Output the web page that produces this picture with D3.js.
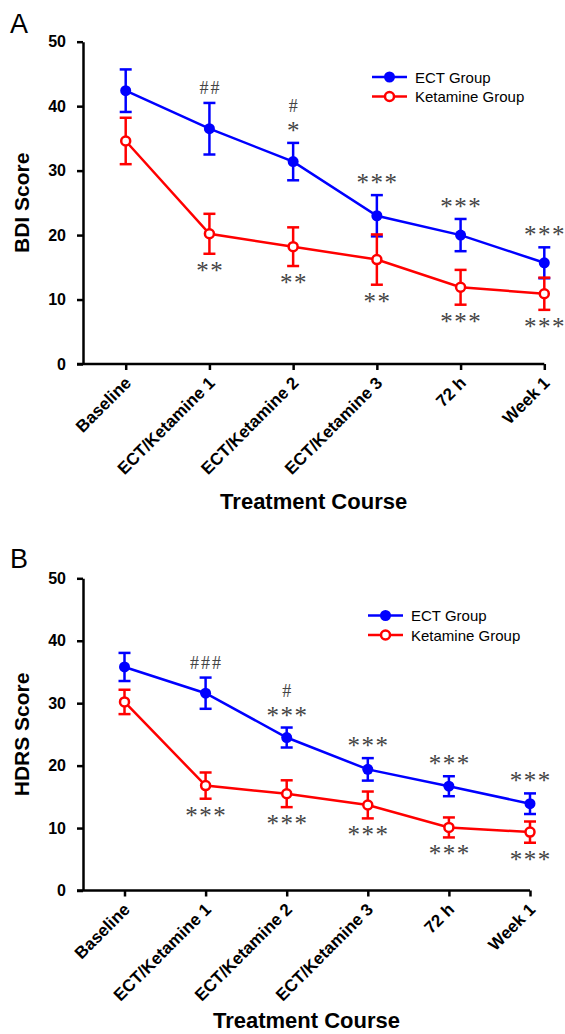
<!DOCTYPE html>
<html>
<head>
<meta charset="utf-8">
<script src="https://cdn.jsdelivr.net/npm/d3@7"></script>
<style>
  html, body { margin: 0; padding: 0; background: #fff; }
  svg { display: block; }
</style>
</head>
<body>
<svg id="chart" width="565" height="1034"></svg>
<script>
// ---------------- DATA ----------------
const categories = ["Baseline", "ECT/Ketamine 1", "ECT/Ketamine 2", "ECT/Ketamine 3", "72 h", "Week 1"];
const yTicks = [0, 10, 20, 30, 40, 50];
const seriesNames = ["ECT Group", "Ketamine Group"];

// Panel A: BDI
const bdiEct = [42.4, 36.5, 31.4, 23.0, 20.0, 15.7];
const bdiEctErr = [3.3, 4.0, 2.9, 3.2, 2.5, 2.4];
const bdiKet = [34.6, 20.2, 18.2, 16.2, 11.9, 10.9];
const bdiKetErr = [3.6, 3.1, 3.0, 3.9, 2.7, 2.5];
// annotations (listed from nearest to the bar outward)
const bdiEctMarks = [[], ["##"], ["*", "#"], ["***"], ["***"], ["***"]];
const bdiKetMarks = [[], ["**"], ["**"], ["**"], ["***"], ["***"]];

// Panel B: HDRS
const hdrsEct = [35.8, 31.6, 24.5, 19.4, 16.7, 13.9];
const hdrsEctErr = [2.25, 2.5, 1.6, 1.8, 1.6, 1.65];
const hdrsKet = [30.2, 16.8, 15.5, 13.7, 10.1, 9.35];
const hdrsKetErr = [1.95, 2.1, 2.15, 2.15, 1.6, 1.7];
const hdrsEctMarks = [[], ["###"], ["***", "#"], ["***"], ["***"], ["***"]];
const hdrsKetMarks = [[], ["***"], ["***"], ["***"], ["***"], ["***"]];

const panelLetters = ["A", "B"];
const yTitles = ["BDI Score", "HDRS Score"];
const xTitle = "Treatment Course";

// ---------------- LAYOUT ----------------
const BLUE = "#0000ff", RED = "#ff0000", GRAY = "#444";
const FONT = "'Liberation Sans', Arial, sans-serif";
const SERIF = "'Liberation Serif', 'Times New Roman', serif";

const panels = [
  { letter: panelLetters[0], yTitle: yTitles[0],
    ect: bdiEct, ectErr: bdiEctErr, ket: bdiKet, ketErr: bdiKetErr,
    ectMarks: bdiEctMarks, ketMarks: bdiKetMarks,
    axisX: 83, yTop: 41.7, yBottom: 364, xRange: [125.7, 544.3],
    legendX: 372, legendY: 77, letterY: 33, titleY: 509 },
  { letter: panelLetters[1], yTitle: yTitles[1],
    ect: hdrsEct, ectErr: hdrsEctErr, ket: hdrsKet, ketErr: hdrsKetErr,
    ectMarks: hdrsEctMarks, ketMarks: hdrsKetMarks,
    axisX: 83, yTop: 578.3, yBottom: 890.5, xRange: [124.5, 530],
    legendX: 368, legendY: 615.5, letterY: 568, titleY: 1028 }
];

const svg = d3.select("#chart");

panels.forEach(p => {
  const g = svg.append("g");
  const x = d3.scalePoint().domain(categories).range(p.xRange);
  const y = d3.scaleLinear().domain([0, 50]).range([p.yBottom, p.yTop]);

  // panel letter
  g.append("text").attr("x", 10).attr("y", p.letterY)
    .attr("font-family", FONT).attr("font-size", 27).attr("fill", "#000")
    .text(p.letter);

  // y axis
  const yAxis = g.append("g").attr("transform", `translate(${p.axisX},0)`)
    .call(d3.axisLeft(y).tickValues(yTicks).tickSize(6).tickSizeOuter(0).tickPadding(11));
  yAxis.select(".domain").attr("stroke", "#000").attr("stroke-width", 2.5);
  yAxis.selectAll(".tick line").attr("stroke", "#000").attr("stroke-width", 2.5);
  yAxis.selectAll(".tick text").attr("font-family", FONT).attr("font-size", 16)
    .attr("font-weight", "bold").attr("fill", "#000");

  // x axis
  const xAxis = g.append("g").attr("transform", `translate(0,${p.yBottom})`)
    .call(d3.axisBottom(x).tickSize(6).tickSizeOuter(0));
  xAxis.select(".domain").remove();
  xAxis.selectAll(".tick line").attr("stroke", "#000").attr("stroke-width", 2.5);
  xAxis.selectAll(".tick text")
    .attr("font-family", FONT).attr("font-size", 17).attr("font-weight", "bold").attr("fill", "#000")
    .attr("text-anchor", "end").attr("dy", null).attr("y", null)
    .attr("transform", "translate(6,20) rotate(-45)");
  g.append("line")
    .attr("x1", p.axisX - 6).attr("x2", x(categories[categories.length - 1]))
    .attr("y1", p.yBottom).attr("y2", p.yBottom)
    .attr("stroke", "#000").attr("stroke-width", 2.5);

  // axis titles
  g.append("text")
    .attr("transform", `translate(29,${(p.yTop + p.yBottom) / 2}) rotate(-90)`)
    .attr("text-anchor", "middle").attr("font-family", FONT).attr("font-size", 21)
    .attr("font-weight", "bold").text(p.yTitle);
  g.append("text")
    .attr("x", (p.axisX + p.xRange[1]) / 2).attr("y", p.titleY)
    .attr("text-anchor", "middle").attr("font-family", FONT).attr("font-size", 22)
    .attr("font-weight", "bold").text(xTitle);

  const line = d3.line().x((d, i) => x(categories[i])).y(d => y(d));
  const cap = 6;

  function drawSeries(vals, errs, color, filled) {
    const sg = g.append("g");
    // error bars
    vals.forEach((v, i) => {
      const cx = x(categories[i]);
      const t = y(v + errs[i]), b = y(v - errs[i]);
      sg.append("line").attr("x1", cx).attr("x2", cx).attr("y1", t).attr("y2", b)
        .attr("stroke", color).attr("stroke-width", 2.5);
      [t, b].forEach(yy => sg.append("line").attr("x1", cx - cap).attr("x2", cx + cap)
        .attr("y1", yy).attr("y2", yy).attr("stroke", color).attr("stroke-width", 2.5));
    });
    sg.append("path").datum(vals).attr("d", line).attr("fill", "none")
      .attr("stroke", color).attr("stroke-width", 2.5);
    sg.selectAll("circle").data(vals).enter().append("circle")
      .attr("cx", (d, i) => x(categories[i])).attr("cy", d => y(d))
      .attr("r", filled ? 5.5 : 4.5)
      .attr("fill", filled ? color : "#fff")
      .attr("stroke", color).attr("stroke-width", filled ? 0 : 2.5);
  }

  drawSeries(p.ect, p.ectErr, BLUE, true);
  drawSeries(p.ket, p.ketErr, RED, false);

  // significance marks
  function drawMarks(marks, vals, errs, above) {
    marks.forEach((lines, i) => {
      const cx = x(categories[i]);
      const edge = above ? y(vals[i] + errs[i]) : y(vals[i] - errs[i]);
      lines.forEach((str, k) => {
        const cy = above ? edge - 15 - k * 22 : edge + 14 + k * 22;
        const chars = str.split("");
        const isStar = chars[0] === "*";
        const pitch = isStar ? 14 : 11;
        chars.forEach((ch, j) => {
          g.append("text")
            .attr("x", cx + (j - (chars.length - 1) / 2) * pitch)
            .attr("y", isStar ? cy + 11 : cy + 6)
            .attr("text-anchor", "middle")
            .attr("font-family", SERIF)
            .attr("font-size", isStar ? 25 : 18)
            .attr("fill", GRAY)
            .text(ch);
        });
      });
    });
  }
  drawMarks(p.ectMarks, p.ect, p.ectErr, true);
  drawMarks(p.ketMarks, p.ket, p.ketErr, false);

  // legend
  const lg = g.append("g").attr("transform", `translate(${p.legendX},${p.legendY})`);
  [[BLUE, true], [RED, false]].forEach(([c, filled], i) => {
    const ly = i * 19.5;
    lg.append("line").attr("x1", 0).attr("x2", 35).attr("y1", ly).attr("y2", ly)
      .attr("stroke", c).attr("stroke-width", 2.5);
    lg.append("circle").attr("cx", 17.5).attr("cy", ly).attr("r", filled ? 5.5 : 4.5)
      .attr("fill", filled ? c : "#fff").attr("stroke", c).attr("stroke-width", filled ? 0 : 2.5);
    lg.append("text").attr("x", 43).attr("y", ly + 5.5)
      .attr("font-family", FONT).attr("font-size", 15).attr("fill", "#000")
      .text(seriesNames[i]);
  });
});
</script>
</body>
</html>
